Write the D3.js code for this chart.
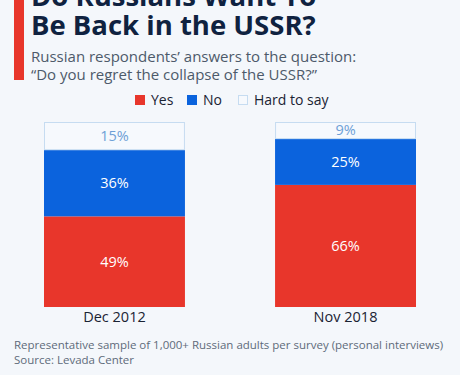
<!DOCTYPE html>
<html>
<head>
<meta charset="utf-8">
<script src="https://cdnjs.cloudflare.com/ajax/libs/d3/7.8.5/d3.min.js"></script>
<style>
  body { margin: 0; background: #f4f7fb; }
  svg { display: block; font-family: "Open Sans", sans-serif; }
</style>
</head>
<body>
<div id="chart"></div>
<script>
      var categories = ["Dec 2012", "Nov 2018"];
      var seriesNames = ["Yes", "No", "Hard to say"];
      var yes = [49, 66];
      var no = [36, 25];
      var hard = [15, 9];

      var colors = ["#e8362b", "#0b63dd", "#f6f9fd"];
      var labelColors = ["#ffffff", "#ffffff", "#6d9fd6"];

      var W = 460, H = 375;

      var svg = d3.select("#chart").append("svg")
          .attr("width", W)
          .attr("height", H);

      svg.append("rect").attr("width", W).attr("height", H).attr("fill", "#f4f7fb");

      // accent bar + headings
      svg.append("rect").attr("x", 14).attr("y", 0).attr("width", 10).attr("height", 80).attr("fill", "#e8362b");

      svg.append("text").attr("x", 31).attr("y", 6)
          .attr("font-size", 27.5).attr("font-weight", 700).attr("fill", "#0f2240")
          .text("Do Russians Want To");
      svg.append("text").attr("x", 31).attr("y", 35)
          .attr("font-size", 27.5).attr("font-weight", 700).attr("fill", "#0f2240")
          .text("Be Back in the USSR?");

      svg.append("text").attr("x", 31).attr("y", 62)
          .attr("font-size", 15).attr("fill", "#4d5a6a")
          .text("Russian respondents\u2019 answers to the question:");
      svg.append("text").attr("x", 31).attr("y", 80)
          .attr("font-size", 15).attr("fill", "#4d5a6a")
          .text("\u201CDo you regret the collapse of the USSR?\u201D");

      // legend
      var legendX = [135, 187, 238];
      var legend = svg.append("g");
      seriesNames.forEach(function(name, i) {
          legend.append("rect")
              .attr("x", legendX[i] + 0.5).attr("y", 95.5)
              .attr("width", 9).attr("height", 9)
              .attr("fill", colors[i])
              .attr("stroke", i === 2 ? "#c6dcf1" : colors[i]);
          legend.append("text")
              .attr("x", legendX[i] + 16).attr("y", 105)
              .attr("font-size", 14).attr("fill", "#1a2333")
              .text(name);
      });

      // scales
      var xScale = d3.scaleBand()
          .domain(categories)
          .range([44, 416])
          .paddingInner(0.39);

      var yScale = d3.scaleLinear()
          .domain([0, 100])
          .range([307, 122]);

      var data = categories.map(function(c, i) {
          return { cat: c, Yes: yes[i], No: no[i], "Hard to say": hard[i] };
      });

      var stack = d3.stack().keys(seriesNames);
      var series = stack(data);

      var groups = svg.append("g").selectAll("g")
          .data(series)
          .enter()
          .append("g");

      groups.selectAll("rect")
          .data(function(d, i) { return d.map(function(p) { return { p: p, k: i }; }); })
          .enter()
          .append("rect")
          .attr("x", function(d) { return xScale(d.p.data.cat) + (d.k === 2 ? 0.5 : 0); })
          .attr("y", function(d) { return yScale(d.p[1]) + (d.k === 2 ? 0.5 : 0); })
          .attr("width", function(d) { return xScale.bandwidth() - (d.k === 2 ? 1 : 0); })
          .attr("height", function(d) { return yScale(d.p[0]) - yScale(d.p[1]) - (d.k === 2 ? 0.5 : 0); })
          .attr("fill", function(d) { return colors[d.k]; })
          .attr("stroke", function(d) { return d.k === 2 ? "#c6dcf1" : "none"; });

      groups.selectAll("text")
          .data(function(d, i) { return d.map(function(p) { return { p: p, k: i }; }); })
          .enter()
          .append("text")
          .attr("x", function(d) { return xScale(d.p.data.cat) + xScale.bandwidth() / 2; })
          .attr("y", function(d) { return (yScale(d.p[0]) + yScale(d.p[1])) / 2; })
          .attr("dy", "0.35em")
          .attr("text-anchor", "middle")
          .attr("font-size", 14.5)
          .attr("fill", function(d) { return labelColors[d.k]; })
          .text(function(d) { return (d.p[1] - d.p[0]) + "%"; });

      // x axis labels
      var xAxis = d3.axisBottom(xScale).tickSize(0).tickPadding(5);
      var ax = svg.append("g")
          .attr("transform", "translate(0,307)")
          .call(xAxis);
      ax.select(".domain").remove();
      ax.selectAll("text")
          .attr("font-size", 14.5)
          .attr("font-family", "'Open Sans', sans-serif")
          .attr("fill", "#1a2333");

      // footer
      svg.append("text").attr("x", 14).attr("y", 349)
          .attr("font-size", 11.5).attr("fill", "#5e6b7a")
          .text("Representative sample of 1,000+ Russian adults per survey (personal interviews)");
      svg.append("text").attr("x", 14).attr("y", 364)
          .attr("font-size", 11.5).attr("fill", "#5e6b7a")
          .text("Source: Levada Center");
</script>
</body>
</html>
